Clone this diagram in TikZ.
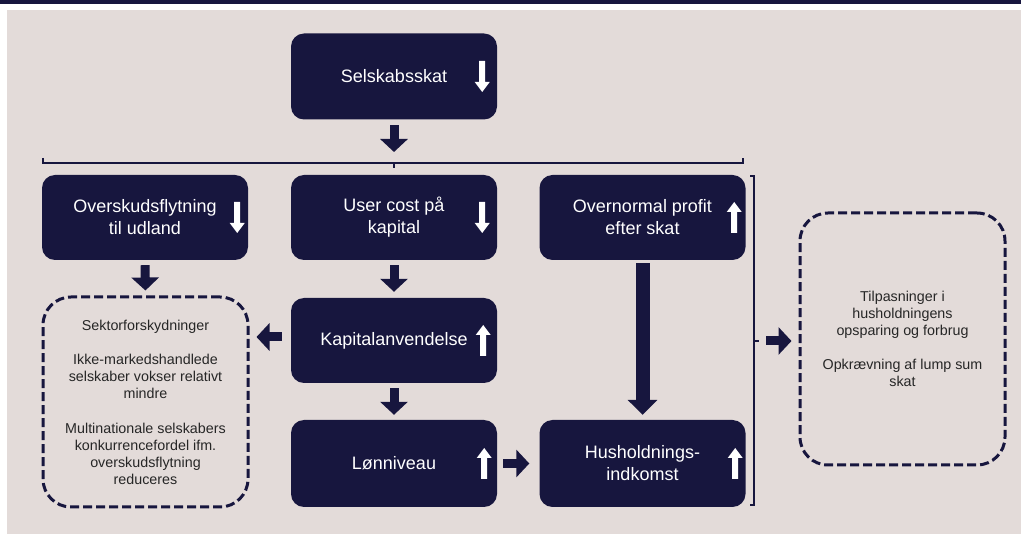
\documentclass[tikz,border=0pt]{standalone}
\usepackage{fontspec}
\setmainfont{Liberation Sans}
\usetikzlibrary{arrows.meta,calc}

\definecolor{navy}{RGB}{23,22,62}
\definecolor{paper}{RGB}{227,219,217}
\definecolor{ink}{RGB}{38,38,38}

\tikzset{
  darkbox/.style={rectangle, rounded corners=13pt, fill=navy, draw=none,
    minimum width=206pt, minimum height=86pt, text=white, align=center,
    font=\fontsize{18}{22}\selectfont, inner sep=0pt},
  dashbox/.style={rectangle, rounded corners=28pt, draw=navy, line width=3pt,
    dash pattern=on 9pt off 4pt, minimum width=205pt, text=ink, align=center,
    font=\fontsize{14.3}{17}\selectfont, inner sep=0pt},
  blockarrow/.style={draw=navy, line width=9pt,
    -{Triangle[width=27pt,length=13pt]}},
  bigarrow/.style={draw=navy, line width=14pt,
    -{Triangle[width=29pt,length=15pt]}},
  bracketline/.style={draw=navy, line width=1.3pt},
  uparr/.pic={\fill[white] (-3,15.5) -- (-3,-5.5) -- (-7.5,-5.5) -- (0,-15.5)
    -- (7.5,-5.5) -- (3,-5.5) -- (3,15.5) -- cycle;},
  downarr/.pic={\fill[white] (-3,-15.5) -- (-3,5.5) -- (-7.5,5.5) -- (0,15.5)
    -- (7.5,5.5) -- (3,5.5) -- (3,-15.5) -- cycle;},
}

\begin{document}
\begin{tikzpicture}[x=1pt,y=-1pt]
\useasboundingbox (0,0) rectangle (1021,534);

% page frame: rule at the top and tinted panel
\fill[navy] (0,0) rectangle (1021,4);
\fill[paper] (7,10) rectangle (1021,534);

% main boxes
\node[darkbox] (sel) at (394,76.5) {Selskabsskat};
\node[darkbox, minimum height=85pt] (ovs) at (145,217.5) {Overskudsflytning\\til udland};
\node[darkbox, minimum height=85pt] (usr) at (394,217.5) {User cost på\\kapital};
\node[darkbox, minimum height=85pt] (ovn) at (642.5,217.5) {Overnormal profit\\efter skat};
\node[darkbox, minimum height=85pt] (kap) at (394,340.5) {Kapitalanvendelse};
\node[darkbox, minimum height=87pt] (lon) at (394,463.5) {Lønniveau};
\node[darkbox, minimum height=87pt] (hus) at (642.5,463.5) {Husholdnings-\\indkomst};

% dashed side boxes
\node[dashbox, minimum height=210pt] (sek) at (145.5,402) {Sektorforskydninger\\[17.5pt]
  Ikke-markedshandlede\\selskaber vokser relativt\\mindre\\[17.5pt]
  Multinationale selskabers\\konkurrencefordel ifm.\\overskudsflytning\\reduceres};
\node[dashbox, minimum height=252pt] (til) at (902.5,339) {Tilpasninger i\\husholdningens\\opsparing og forbrug\\[17.5pt]
  Opkrævning af lump sum\\skat};

% direction markers inside the boxes
\pic at ([xshift=-15pt]sel.east) {downarr};
\pic at ([xshift=-11pt]ovs.east) {downarr};
\pic at ([xshift=-15pt]usr.east) {downarr};
\pic at ([xshift=-11.5pt]ovn.east) {uparr};
\pic at ([xshift=-14pt]kap.east) {uparr};
\pic at ([xshift=-13pt]lon.east) {uparr};
\pic at ([xshift=-10.5pt]hus.east) {uparr};

% horizontal bracket under the tax box
\coordinate (hbL) at (43,163);
\coordinate (hbR) at (743,163);
\coordinate (hbM) at (394,163);
\draw[bracketline] ([yshift=5pt]hbL) -- (hbL) -- (hbR) -- ([yshift=5pt]hbR);
\draw[bracketline] (hbM) -- ([yshift=-5pt]hbM);

% vertical bracket around the right column
\coordinate (vbT) at (754,176);
\coordinate (vbB) at (754,505);
\coordinate (vbM) at (754,341);
\draw[bracketline] ([xshift=-4pt]vbT) -- (vbT) -- (vbB) -- ([xshift=-4pt]vbB);
\draw[bracketline] (vbM) -- ([xshift=5pt]vbM);

% block arrows
\draw[blockarrow, shorten <=5.5pt, shorten >=11pt] (sel.south) -- (hbM);
\draw[blockarrow, shorten <=5pt, shorten >=5pt] (ovs.south) -- (sek.north);
\draw[blockarrow, shorten <=5pt, shorten >=6pt] (usr.south) -- (kap.north);
\draw[blockarrow, shorten <=5pt, shorten >=5pt] (kap.south) -- (lon.north);
\draw[blockarrow, shorten <=9pt, shorten >=7pt] ([yshift=3.5pt]kap.west) -- ([yshift=3.5pt]kap.west -| sek.east);
\draw[blockarrow, shorten <=6pt, shorten >=10pt] (lon.east) -- (hus.west);
\draw[bigarrow, shorten <=3pt, shorten >=5pt] (ovn.south) -- (hus.north);
\draw[blockarrow, shorten <=12pt, shorten >=7pt] (vbM) -- (vbM -| til.west);
\end{tikzpicture}
\end{document}
